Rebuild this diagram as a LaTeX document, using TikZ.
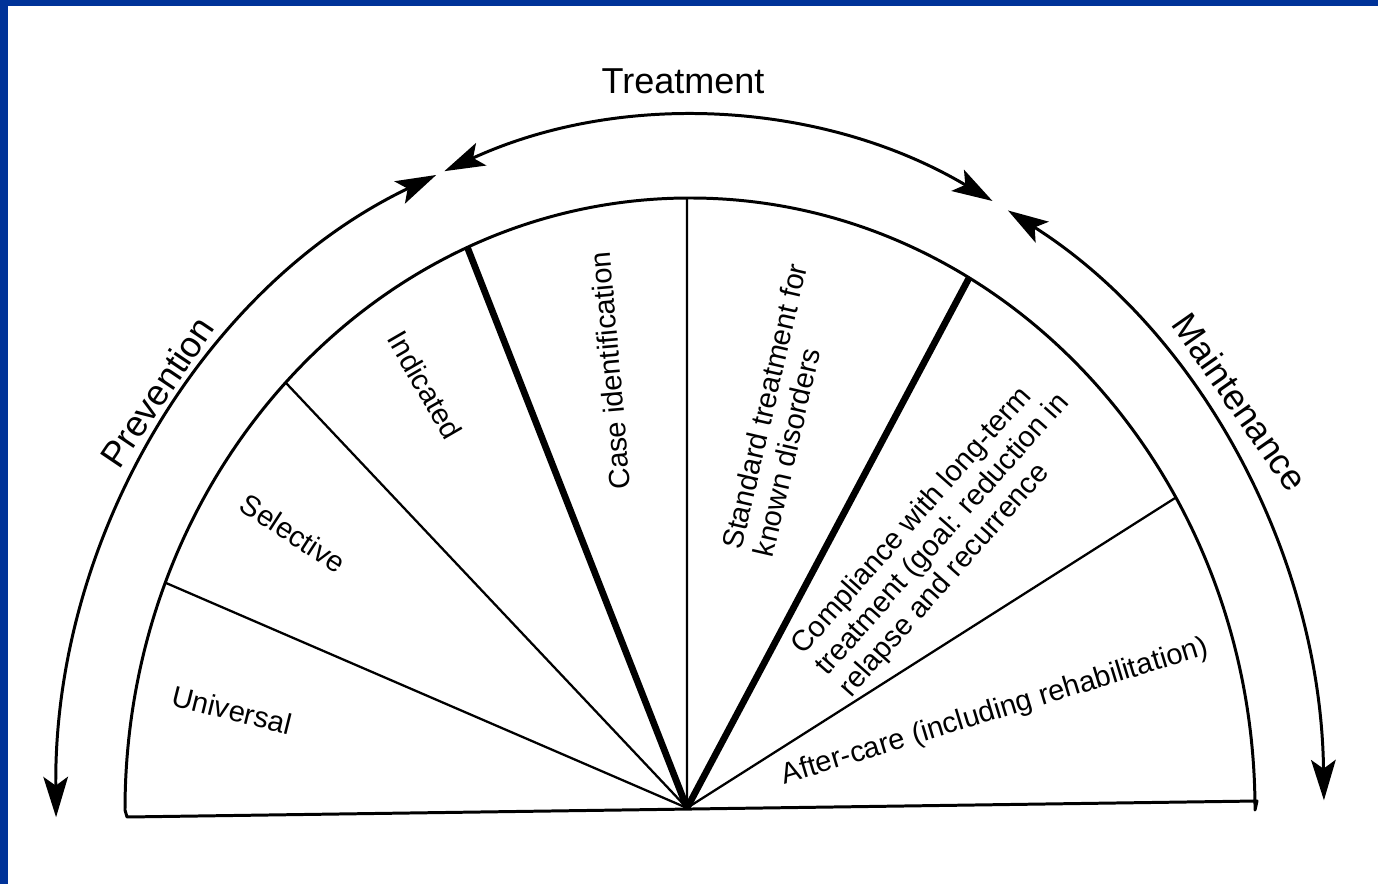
\documentclass[tikz,border=0pt]{standalone}
\usepackage{fontspec}
\setmainfont{Liberation Sans}
\usetikzlibrary{arrows.meta}
\definecolor{frameblue}{RGB}{0,51,153}
\begin{document}
\begin{tikzpicture}[x=0.02cm,y=0.02cm,
  outline/.style={line width=1.7pt, line join=round},
  thinray/.style={line width=1.3pt},
  thickray/.style={line width=3.8pt},
  tip/.tip={Stealth[length=23pt,width=14pt,inset=5pt]},
  twoarrow/.style={line width=1.7pt, tip-tip},
  lbl/.style={font=\fontsize{16.6}{18.2}\selectfont, inner sep=0pt, align=left},
  biglbl/.style={font=\fontsize{20.5}{24}\selectfont, inner sep=0pt}]
\useasboundingbox (0,0) rectangle (1378,-884);
\fill[white] (0,0) rectangle (1378,-884);
\fill[frameblue] (0,0) rectangle (8,-884);
\fill[frameblue] (0,0) rectangle (1378,-6);

% geometry
\coordinate (C) at (690,-810);
\coordinate (A) at (687,-808);
\coordinate (BL) at (127,-817);
\coordinate (BR) at (1257,-801);
\foreach \t/\n in {158.2/1,135.7/2,113.2/3,90.3/4,60.4/5,30.7/6}
  \path (C) ++(\t:565 and 612) coordinate (R\n);

% half-disc outline
\draw[outline] (BL) -- (125,-810) arc[start angle=180, end angle=0, x radius=565, y radius=612] -- (BR) -- cycle;

% rays
\draw[thinray] (A) -- (R1);
\draw[thinray] (A) -- (R2);
\draw[thickray] (A) -- (R3);
\draw[thinray] (A) -- (R4);
\draw[thickray] (A) -- (R5);
\draw[thinray] (A) -- (R6);

% outer arrows
\path (C) ++(180.6:634 and 693) coordinate (P0);
\path (C) ++(112.8:634 and 693) coordinate (T0);
\path (C) ++(59.9:634 and 693) coordinate (M0);
\draw[twoarrow] (P0) arc[start angle=180.6, end angle=113.6, x radius=634, y radius=693];
\draw[twoarrow] (T0) arc[start angle=112.8, end angle=61.5, x radius=634, y radius=693];
\draw[twoarrow] (M0) arc[start angle=59.9, end angle=0.8, x radius=634, y radius=693];

% labels
\node[biglbl] (treat) at (683,-81) {Treatment};
\node[biglbl, rotate=56] (prev) at (157,-392) {Prevention};
\node[biglbl, rotate=-55] (maint) at (1240,-402) {Maintenance};
\node[lbl, rotate=-14] (univ) at (232,-710) {Universal};
\node[lbl, rotate=-33] (sel) at (293,-533) {Selective};
\node[lbl, rotate=-60] (ind) at (425,-385) {Indicated};
\node[lbl, rotate=95] (case) at (610,-371) {Case identification};
\node[lbl, rotate=77] (std) at (780,-410) {Standard treatment for\\known disorders};
\node[lbl, rotate=48.5] (comp) at (943,-535) {Compliance with long-term\\treatment (goal: reduction in\\relapse and recurrence};
\node[lbl, rotate=17] (after) at (995,-712) {After-care (including rehabilitation)};
\end{tikzpicture}
\end{document}
